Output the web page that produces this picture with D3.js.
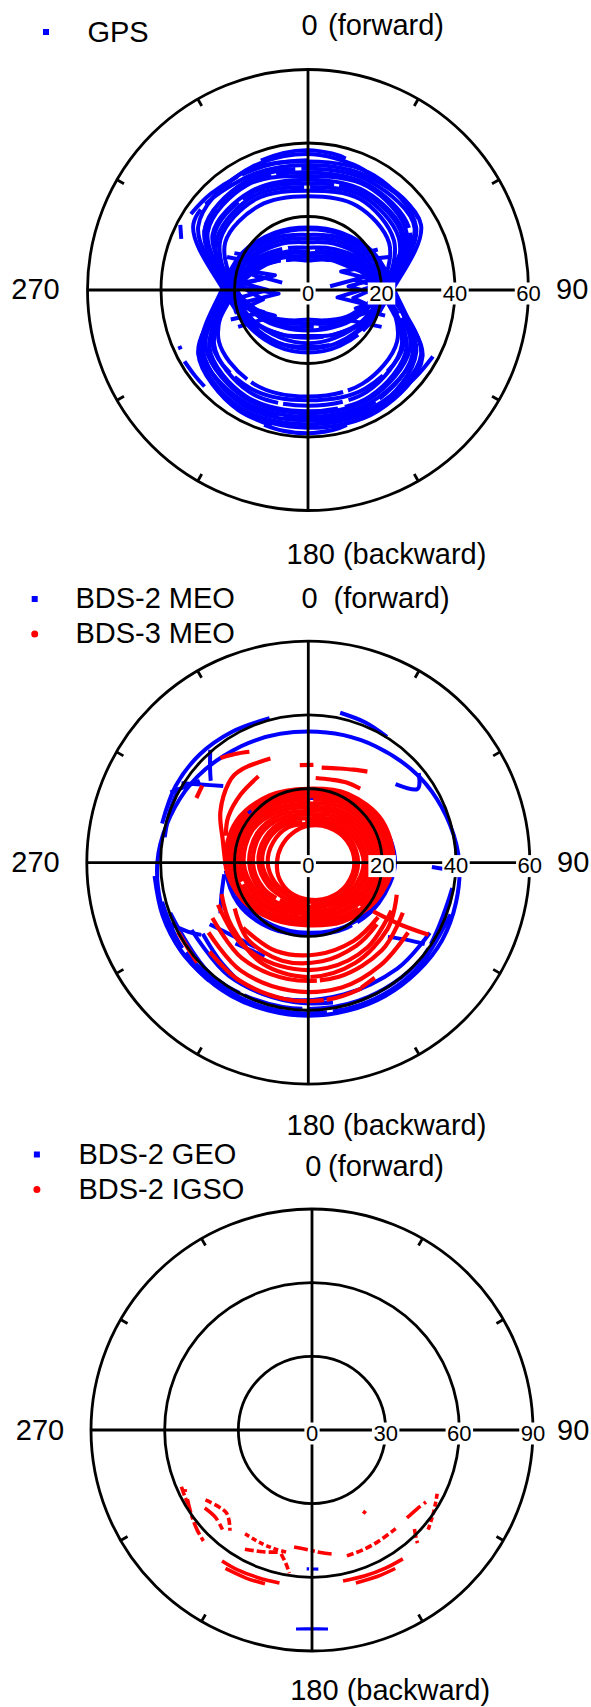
<!DOCTYPE html>
<html><head><meta charset="utf-8">
<script src="https://cdn.jsdelivr.net/npm/d3@7"></script>
<style>
html,body{margin:0;padding:0;background:#fff;}
svg{display:block;font-family:"Liberation Sans",Arial,sans-serif;}
</style></head><body>
<svg id="chart" width="591" height="1707"></svg>
<script>
// ---------- DATA (azimuth in degrees, 0 = forward, clockwise; radius in degrees) ----------
const azGrid = [0, 30, 60, 90, 120, 150, 180, 210, 240, 270, 300, 330];

// GPS closed tracks: radius at each azGrid azimuth
const gpsLoops = [
  [35, 36, 34, 22, 17, 14, 12.5, 14, 17, 22, 34.5, 36.5],
  [33, 34, 33.5, 20, 14, 10.5, 9, 10.5, 14, 20, 32.5, 34],
  [31, 32.5, 31, 21, 17, 15, 14.5, 15, 17, 21, 31.5, 33],
  [29, 30.5, 29.5, 20.5, 15, 11.5, 10, 11.5, 15, 20.5, 29.5, 30.5],
  [27, 28.5, 27, 21, 18, 16.5, 16, 16.5, 18, 21, 27.5, 28.5],
  [34, 35, 35.5, 23, 18.5, 16.5, 15.5, 16.5, 18.5, 23, 36, 35],
  [25.5, 26.5, 25.5, 19.5, 13.5, 9.5, 8, 9.5, 13.5, 19.5, 26, 26.5],
  [32, 33, 32, 22, 17.5, 14, 13, 14, 17.5, 22, 32.5, 33.5],
  [30, 31, 30, 19.5, 15, 12, 11, 12, 15, 19.5, 30, 31],
  [28, 29.5, 28.5, 22.5, 19, 17.5, 17, 17.5, 19, 22.5, 28.5, 29.5],
  [13, 14.5, 17.5, 22, 34, 37, 36.5, 37, 34, 22, 17.5, 14.5],
  [9, 10.5, 14, 20, 33, 35.5, 35, 35.5, 33, 20, 14, 10.5],
  [15, 16.5, 19, 22.5, 35.5, 36.5, 35.5, 36, 33, 22.5, 19, 16.5],
  [10, 11.5, 15, 20, 31, 33.5, 33, 33.5, 31, 20, 15, 11.5],
  [16.5, 17.5, 20, 23, 32, 34, 33.5, 34, 32, 23, 20, 17.5],
  [8, 9.5, 13.5, 19.5, 29.5, 32, 31.5, 32, 29.5, 19.5, 13.5, 9.5],
  [14, 15.5, 18, 21.5, 36, 38, 37.5, 37.5, 34.5, 21.5, 18, 15.5],
  [11.5, 13, 16.5, 20.5, 30, 31, 30, 31, 30, 20.5, 16.5, 13],
  [17, 18, 20.5, 23.5, 33.5, 35, 34.5, 35, 33.5, 23.5, 20.5, 18],
  [10.5, 12, 15.5, 21, 28, 29.5, 29, 29.5, 28, 21, 15.5, 12]
];
// GPS open track pieces: [azimuth, radius]
const gpsArcs = [
  [[340, 37.5], [350, 37.9], [0, 38], [10, 37.7], [16, 37.2]],
  [[322, 36.3], [335, 36.8], [350, 37], [5, 36.9], [20, 36.3], [30, 35.6]],
  [[303, 38], [315, 37.2], [330, 36.2], [345, 35.6], [0, 35.3]],
  [[18, 34.6], [33, 35.3], [46, 36], [57, 35.8]],
  [[198, 38.6], [190, 38.9], [180, 39], [170, 38.7], [164, 38.2]],
  [[240, 34.5], [225, 36.5], [210, 37.8], [195, 38.2]],
  [[118, 38.5], [130, 37.6], [145, 37.2], [160, 37.3]],
  [[297, 39], [292, 37.2]],
  [[246.5, 38.2], [245, 38.2]],
  [[240, 38.8], [233, 38.6], [227, 38.5]]
];
const gpsZigzags = [
  [[285.9, 21.8], [294, 9.85], [272.9, 20], [262.9, 8.06], [258.7, 20.4], [232.1, 11.4], [242.2, 21.5]],
  [[292.2, 23.8], [300.3, 13.9], [277.8, 22.2], [270, 11], [262.2, 22.2], [243.4, 13.4], [249.1, 22.5]],
  [[296.6, 22.4], [315, 11.3], [285.5, 18.7], [285.9, 7.3]],
  [[289, 20.5], [283, 13], [275, 19.5], [258, 12.5], [253, 21]],
  [[70.7, 21.2], [60.9, 10.3], [84.6, 21.1], [104, 8.25], [104, 20.6], [128.7, 12.8], [116.6, 22.4]],
  [[67.8, 23.8], [56.3, 14.4], [79.7, 22.4], [84.8, 11.05], [95.2, 22.1], [111, 13.9], [108.4, 22.1]],
  [[59.9, 21.95], [41.2, 10.6], [76.8, 17.5], [80.5, 6.1]],
  [[73, 20], [78, 13], [87, 19.5], [100, 12.5], [106, 21]]
];

// BDS-2 MEO
const bds2MeoLoops = [
  [35.5, 36.4, 38.6, 40.9, 41.9, 41.7, 41.5, 41.7, 41.9, 40.9, 38.6, 36.4],
  [18.5, 20, 22.5, 23.5, 22, 20.5, 19.5, 20.5, 22, 22.5, 22, 20],
  [17.5, 19, 21.5, 22.5, 21.5, 20, 19, 19.5, 21, 21.5, 21, 19]
];
const bds2MeoArcs = [
  [[285, 41], [300, 41.5], [315, 41.5], [330, 41], [345, 40.5]],
  [[12, 41.5], [22, 41], [32, 40.2]],
  [[100, 39.6], [130, 40.2], [160, 39.8], [190, 39.7], [220, 40.2], [250, 39.8]],
  [[236, 34.5], [220, 36], [205, 37.5], [186, 38], [170, 38.5]],
  [[222, 29.5], [205, 28]],
  [[133, 29.5], [128, 34], [125, 38.5]],
  [[302, 40.5], [306, 36], [312, 31]],
  [[297, 41.9], [302, 39], [307, 36.8]],
  [[319, 40.5], [314, 37], [310, 34.5]],
  [[48, 31.8], [56, 35.6], [51, 38.5]],
  [[92, 33.5], [93, 38.5]],
  [[240, 36.5], [215, 37.5], [190, 37.5], [165, 37], [140, 37.5], [120, 38]],
  [[262, 23], [250, 25], [240, 27.5]],
  [[238, 31.5], [226, 28.5], [212, 27]],
  [[246, 41], [240, 37.5], [236, 35]],
  [[265, 41.8], [250, 42], [235, 42], [220, 41.8]],
  [[110, 41], [135, 41.2], [160, 41], [185, 40.8], [210, 41], [235, 41.2], [255, 41]],
  [[280, 39.5], [290, 40], [300, 40.5]]
];
// BDS-3 MEO
const bds3MeoLoops = [
  [20, 21.5, 23, 23, 21, 18.5, 17, 18, 20.5, 22.5, 22.5, 21],
  [19, 20.5, 22, 22.5, 20.5, 18, 16.5, 17.5, 20, 21.5, 21.5, 20],
  [18, 19.5, 21, 22, 20, 17.5, 16, 17, 19, 20.5, 20.5, 19],
  [17, 18.5, 20, 21, 19.5, 17, 15.5, 16, 18, 19.5, 19.5, 18],
  [16, 17.5, 19, 20, 18.5, 16, 15, 15.5, 17, 18.5, 18.5, 17],
  [15, 16.5, 18, 19, 17.5, 15.5, 14, 14.5, 16, 17.5, 17.5, 16],
  [14, 15.5, 17, 18, 16.5, 14.5, 13.5, 13.5, 15, 16, 16, 15],
  [13, 14.5, 16, 17, 15.5, 14, 13, 12.5, 14, 15, 15, 14],
  [12, 13.5, 15, 16, 15, 13, 12, 11.5, 12.5, 13.5, 13.5, 13],
  [11, 12.5, 14, 15, 14, 12.5, 11.5, 10.5, 11.5, 12.5, 12.5, 12],
  [10.5, 11.5, 13, 13.5, 13, 12, 10.5, 10, 10.5, 11, 11, 11],
  [10, 11, 12, 12.5, 12, 11, 10, 9.5, 9, 8.5, 8.5, 9]
];
const bds3MeoArcs = [
  [[245, 27], [220, 28.5], [195, 29], [170, 29], [145, 28], [120, 26]],
  [[240, 30], [215, 31.5], [190, 32], [165, 32], [140, 31], [118, 29]],
  [[235, 33], [212, 34.5], [188, 35], [165, 35], [145, 34], [125, 33]],
  [[228, 36], [210, 37], [190, 37.5], [172, 37.5], [157, 37]],
  [[225, 25], [200, 25.5], [175, 25], [150, 24.5], [128, 24]],
  [[250, 25], [230, 27], [205, 30], [180, 31], [155, 30], [130, 28], [110, 25.5]],
  [[127, 22], [124, 30], [121, 38]],
  [[340, 30], [325, 31], [315, 30.5], [300, 27.5], [285, 24], [270, 22.5]],
  [[8, 26], [18, 26.8], [26, 28], [33, 29.4]],
  [[355, 26.5], [3, 26.5]],
  [[5, 23], [15, 23.3], [25, 24], [35, 24.5]],
  [[320, 37], [326, 35.5], [332, 34]],
  [[300, 35], [306, 35.5]],
  [[242, 40], [235, 40], [228, 40.5]],
  [[150, 36], [157, 36.8]],
  [[330, 27], [315, 26], [300, 25], [288, 23.5]],
  [[238, 23.5], [218, 26.5], [195, 27.5], [172, 27], [150, 26], [132, 25]]
];

// BDS-2 GEO / IGSO
const bds2GeoArcs = [
  [[182.2, 56.6], [181.2, 56.6]],
  [[179.6, 56.6], [177.4, 56.7]],
  [[184.6, 81.3], [180, 81], [175.4, 81.3]]
];
const bds2IgsoArcs = [
  [[246.5, 58], [242, 58.5], [238.8, 58.8]],
  [[241, 58], [235, 60], [229, 62], [223.5, 63.5]],
  [[236.7, 51.9], [226.2, 48.5], [219.2, 52.9]],
  [[234, 54], [228, 53], [222, 54.5]],
  [[212.8, 50.3], [205, 50.5], [198, 50.7], [192, 50.8]],
  [[209.4, 55.7], [202, 53.5], [195, 51.5]],
  [[188.7, 48.2], [182, 48.8], [176, 50], [171, 51.1]],
  [[194, 52], [191, 55.5], [189, 59]],
  [[214.5, 64.7], [208, 64.5], [200, 64], [192, 63.7]],
  [[212, 66.5], [204, 66], [197, 65.5]],
  [[168.4, 62.8], [160, 63.2], [152, 63.7], [144.8, 64.2]],
  [[164, 64.8], [156, 65.3], [149, 65.8]],
  [[164.5, 53.2], [157, 53], [149, 52.8], [139.7, 52.7]],
  [[132.8, 52.7], [127, 53.5], [122.3, 54.9]],
  [[117, 57.2], [122, 59], [126, 60.5], [131, 62.5]],
  [[134, 58], [136, 61], [137, 63]],
  [[146.5, 39.5], [148.5, 40]],
  [[245, 56.9], [244, 57.5]]
];

const ringsMeo = [0, 20, 40, 60];
const ringsGeo = [0, 30, 60, 90];
const tickAngles = [30, 60, 120, 150, 210, 240, 300, 330];

// ---------- DRAWING ----------
const BLUE = '#0000ff', RED = '#ff0000';
const svg = d3.select('#chart');
const deg = d3.scaleLinear().domain([0, 360]).range([0, 2 * Math.PI]);
const dashStyles = ['none', '160 6', 'none', '95 5', 'none', '220 7', 'none', '60 5 140 6'];
const solidStyles = ['none', 'none', '180 4', 'none', '130 3', 'none'];
const dotStyles = ['9 3', '14 3 4 3', '7 3', '18 4', '5 3'];
const igsoStyle = i => ([8, 9, 10, 11].includes(i) ? 'none' : dotStyles[i % dotStyles.length]);

function drawPanel(p) {
  const r = d3.scaleLinear().domain([0, p.max]).range([0, p.R]);
  const g = svg.append('g').attr('transform', `translate(${p.cx},${p.cy})`);
  const dataG = g.append('g').attr('fill', 'none');

  p.series.forEach((s, si) => {
    const loopGen = d3.lineRadial()
      .angle((d, i) => deg(azGrid[i]))
      .radius(d => r(d))
      .curve(d3.curveCardinalClosed);
    const arcGen = d3.lineRadial()
      .angle(d => deg(d[0]))
      .radius(d => r(d[1]))
      .curve(d3.curveCardinal);
    const zigGen = d3.lineRadial()
      .angle(d => deg(d[0]))
      .radius(d => r(d[1]))
      .curve(d3.curveLinear);
    const styles = s.style;
    (s.loops || []).forEach((d, i) => {
      dataG.append('path').attr('d', loopGen(d))
        .attr('stroke', s.color).attr('stroke-width', s.width)
        .attr('stroke-dasharray', styles[(i + si) % styles.length]);
    });
    (s.arcs || []).forEach((d, i) => {
      dataG.append('path').attr('d', arcGen(d))
        .attr('stroke', s.color).attr('stroke-width', s.width)
        .attr('stroke-dasharray', s.styleAt ? s.styleAt(i) : styles[(i * 3 + 1) % styles.length]);
    });
    (s.zigzags || []).forEach((d, i) => {
      dataG.append('path').attr('d', zigGen(d))
        .attr('stroke', s.color).attr('stroke-width', s.width)
        .attr('stroke-linejoin', 'round');
    });
  });

  // grid
  const gridG = g.append('g').attr('stroke', '#000').attr('stroke-width', 2.8).attr('fill', 'none');
  p.rings.filter(v => v > 0).forEach(v => gridG.append('circle').attr('r', r(v)));
  gridG.append('line').attr('x1', -p.R).attr('x2', p.R).attr('y1', 0).attr('y2', 0);
  gridG.append('line').attr('y1', -p.R).attr('y2', p.R).attr('x1', 0).attr('x2', 0);
  tickAngles.forEach(a => {
    const t = deg(a);
    gridG.append('line')
      .attr('x1', Math.sin(t) * (p.R - 8)).attr('y1', -Math.cos(t) * (p.R - 8))
      .attr('x2', Math.sin(t) * p.R).attr('y2', -Math.cos(t) * p.R);
  });

  // ring labels
  p.rings.forEach(v => {
    const lg = g.append('g').attr('transform', `translate(${r(v)},0)`);
    const t = lg.append('text').attr('text-anchor', 'middle').attr('y', 10.5)
      .attr('font-size', 22).attr('fill', '#000').text(v);
    const bb = t.node().getBBox();
    lg.insert('rect', 'text').attr('x', bb.x - 1.5).attr('y', bb.y + 2)
      .attr('width', bb.width + 3).attr('height', bb.height - 3).attr('fill', '#fff');
  });

  // direction labels
  const L = p.labels;
  const fwd = svg.append('text').attr('x', L.fwd[0]).attr('y', L.fwd[1]).attr('font-size', 29);
  fwd.append('tspan').text('0');
  fwd.append('tspan').attr('x', L.fwd[2]).text('(forward)');
  svg.append('text').attr('x', L.right[0]).attr('y', L.right[1]).attr('font-size', 29).text('90');
  svg.append('text').attr('x', L.left[0]).attr('y', L.left[1]).attr('font-size', 29).text('270');
  svg.append('text').attr('x', L.back[0]).attr('y', L.back[1]).attr('font-size', 29).text('180 (backward)');

  // legend
  p.legend.forEach(e => {
    if (e.shape === 'square') {
      svg.append('rect').attr('x', e.mx - 3).attr('y', e.my - 3).attr('width', 6).attr('height', 6).attr('fill', e.color);
    } else {
      svg.append('circle').attr('cx', e.mx).attr('cy', e.my).attr('r', 3.5).attr('fill', e.color);
    }
    svg.append('text').attr('x', e.tx).attr('y', e.ty).attr('font-size', 29).text(e.name);
  });
}

drawPanel({
  cx: 308, cy: 290, R: 220.5, max: 60, rings: ringsMeo,
  series: [{ color: BLUE, width: 4, loops: gpsLoops, arcs: gpsArcs, zigzags: gpsZigzags, style: dashStyles }],
  labels: { fwd: [301.5, 34.6, 328], right: [556, 299], left: [11.3, 299], back: [286.5, 564] },
  legend: [{ name: 'GPS', color: BLUE, shape: 'square', mx: 46, my: 32, tx: 87.4, ty: 42 }]
});

drawPanel({
  cx: 308.3, cy: 862.6, R: 221.5, max: 60, rings: ringsMeo,
  series: [
    { color: BLUE, width: 4, loops: bds2MeoLoops, arcs: bds2MeoArcs, style: dashStyles },
    { color: RED, width: 4.2, loops: bds3MeoLoops, arcs: bds3MeoArcs, style: solidStyles }
  ],
  labels: { fwd: [301.5, 608, 333.6], right: [557, 872], left: [11.3, 872], back: [286.5, 1135] },
  legend: [
    { name: 'BDS-2 MEO', color: BLUE, shape: 'square', mx: 34.7, my: 599, tx: 75.4, ty: 608 },
    { name: 'BDS-3 MEO', color: RED, shape: 'circle', mx: 34.7, my: 634, tx: 75.4, ty: 643 }
  ]
});

drawPanel({
  cx: 312, cy: 1430, R: 221, max: 90, rings: ringsGeo,
  series: [
    { color: BLUE, width: 3.2, arcs: bds2GeoArcs, style: ['none'] },
    { color: RED, width: 3.6, arcs: bds2IgsoArcs, style: dotStyles, styleAt: igsoStyle }
  ],
  labels: { fwd: [305.3, 1176, 328], right: [557, 1439.5], left: [15.8, 1439.5], back: [290.2, 1700] },
  legend: [
    { name: 'BDS-2 GEO', color: BLUE, shape: 'square', mx: 36.9, my: 1154.5, tx: 78.4, ty: 1163.5 },
    { name: 'BDS-2 IGSO', color: RED, shape: 'circle', mx: 36.9, my: 1189.5, tx: 78.4, ty: 1198.6 }
  ]
});
</script></body></html>
